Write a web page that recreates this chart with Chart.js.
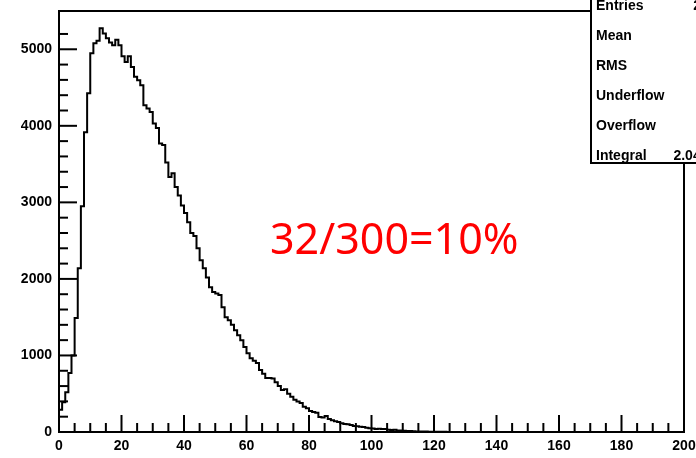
<!DOCTYPE html>
<html>
<head>
<meta charset="utf-8">
<script src="https://cdn.jsdelivr.net/npm/chart.js@4.4.0/dist/chart.umd.min.js"></script>
<style>
  html, body { margin: 0; padding: 0; background: #fff; }
  #wrap { width: 696px; height: 458px; position: relative; }
</style>
</head>
<body>
<div id="wrap"><canvas id="hist"></canvas></div>
<script>
// histogram contents, one value per unit-width bin starting at x = 0
const counts = [
  150, 290, 390, 520, 770, 1000, 1490, 2140, 2950, 3915,
  4425, 4948, 5078, 5110, 5274, 5205, 5143, 5090, 5052, 5126,
  5052, 4908, 4834, 4908, 4770, 4640, 4595, 4530, 4270, 4225,
  4180, 4030, 3970, 3770, 3750, 3520, 3330, 3380, 3200, 3090,
  2960, 2860, 2740, 2600, 2560, 2400, 2245, 2140, 2020, 1890,
  1830, 1810, 1790, 1630, 1500, 1460, 1400, 1330, 1265, 1200,
  1110, 1030, 965, 930, 900, 810, 760, 705, 705, 700,
  650, 600, 550, 560, 500, 460, 420, 400, 380, 330,
  310, 275, 260, 250, 195, 190, 210, 170, 155, 140,
  130, 115, 105, 100, 90, 80, 75, 70, 65, 55,
  50, 45, 40, 42, 38, 40, 30, 25, 28, 20,
  18, 15, 14, 12, 10, 8, 7, 6, 5, 4,
  4, 3, 2, 2, 2, 1, 1, 1, 0, 1
];
const xRange = [0, 200];
const yRange = [0, 5500];

const statLabels = ['Entries', 'Mean', 'RMS', 'Underflow', 'Overflow', 'Integral'];
const statValues = ['204321', '33.96', '18.43', '0', '0', '2.043e+05'];
const note = '32/300=10%';

const TICK_FONT = { family: '"Liberation Sans", Arial, sans-serif', size: 14, weight: 'bold' };

// outline points: each bin starts at its lower edge, last point closes the outline
const points = counts.map((c, i) => ({ x: i, y: c }));
points.push({ x: counts.length, y: 0 });

function line(ctx, x1, y1, x2, y2) {
  ctx.beginPath();
  ctx.moveTo(x1, y1);
  ctx.lineTo(x2, y2);
  ctx.stroke();
}

// keep the frame where it is: no extra room for overhanging tick labels
function noLabelPadding(s) {
  s.paddingLeft = 0;
  s.paddingRight = 0;
  s.paddingTop = 0;
  s.paddingBottom = 0;
}

const rootFrame = {
  id: 'rootFrame',
  afterDatasetsDraw(chart) {
    const { ctx, chartArea: a, scales: { x, y } } = chart;
    ctx.save();
    ctx.strokeStyle = '#000';
    ctx.lineWidth = 2;
    ctx.strokeRect(a.left, a.top, a.right - a.left, a.bottom - a.top);

    // ticks point inward like ROOT axes
    x.ticks.forEach(t => {
      if (t.value % 5 !== 0) return;
      const px = x.getPixelForValue(t.value);
      const len = t.value % 20 === 0 ? 17 : 9;
      line(ctx, px, a.bottom, px, a.bottom - len);
    });
    y.ticks.forEach(t => {
      if (t.value % 200 !== 0) return;
      const py = y.getPixelForValue(t.value);
      const len = t.value % 1000 === 0 ? 18 : 9;
      line(ctx, a.left, py, a.left + len, py);
    });

    // red annotation
    ctx.fillStyle = '#ff0000';
    ctx.font = '43px "Noto Sans", "Open Sans", sans-serif';
    ctx.textAlign = 'left';
    ctx.textBaseline = 'middle';
    ctx.fillText(note, 270, 242);

    // stats box, cut by the right edge of the canvas
    const bx = 591, by = -4, bw = 120, bh = 167;
    ctx.fillStyle = '#fff';
    ctx.fillRect(bx, by, bw, bh);
    ctx.lineWidth = 2;
    ctx.strokeRect(bx, by, bw, bh);
    ctx.fillStyle = '#000';
    ctx.font = 'bold 14px "Liberation Sans", Arial, sans-serif';
    ctx.textBaseline = 'middle';
    statLabels.forEach((lab, i) => {
      const ty = 6 + i * 30;
      ctx.textAlign = 'left';
      ctx.fillText(lab, 596, ty);
      ctx.textAlign = 'right';
      ctx.fillText(statValues[i], 740, ty);
    });
    ctx.restore();
  }
};

new Chart(document.getElementById('hist'), {
  type: 'line',
  data: {
    datasets: [{
      data: points,
      borderColor: '#000',
      borderWidth: 2,
      stepped: 'after',
      pointRadius: 0,
      fill: false,
    }],
  },
  options: {
    responsive: true,
    maintainAspectRatio: false,
    animation: false,
    events: [],
    layout: { padding: { left: 0, top: 11, right: 12, bottom: 0 } },
    plugins: { legend: { display: false }, tooltip: { enabled: false } },
    scales: {
      x: {
        type: 'linear',
        min: xRange[0],
        max: xRange[1],
        grid: { display: false, drawTicks: false },
        border: { display: false },
        afterFit: s => { s.height = 26; noLabelPadding(s); },
        ticks: {
          stepSize: 5,
          autoSkip: false,
          maxRotation: 0,
          padding: 6,
          color: '#000',
          font: TICK_FONT,
          callback: v => (v % 20 === 0 ? v : ''),
        },
      },
      y: {
        min: yRange[0],
        max: yRange[1],
        grid: { display: false, drawTicks: false },
        border: { display: false },
        afterFit: s => { s.width = 59; noLabelPadding(s); },
        ticks: {
          stepSize: 200,
          autoSkip: false,
          padding: 7,
          color: '#000',
          font: TICK_FONT,
          callback: v => (v % 1000 === 0 ? v : ''),
        },
      },
    },
  },
  plugins: [rootFrame],
});
</script>
</body>
</html>
